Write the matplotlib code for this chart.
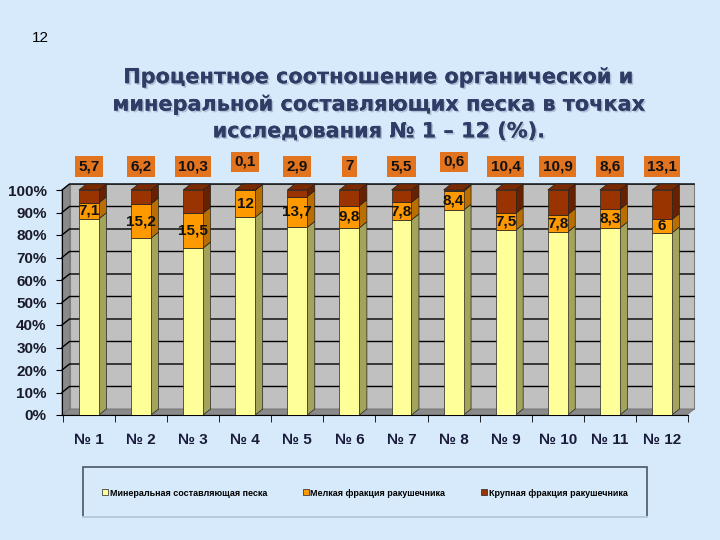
import matplotlib
matplotlib.use('Agg')
from matplotlib import pyplot as plt
from matplotlib import patches
from matplotlib import patheffects as pe

points = ['№ 1', '№ 2', '№ 3', '№ 4', '№ 5', '№ 6',
          '№ 7', '№ 8', '№ 9', '№ 10', '№ 11', '№ 12']
coarse = [5.7, 6.2, 10.3, 0.1, 2.9, 7, 5.5, 0.6, 10.4, 10.9, 8.6, 13.1]
fine = [7.1, 15.2, 15.5, 12, 13.7, 9.8, 7.8, 8.4, 7.5, 7.8, 8.3, 6]
mineral = [100 - c - f for c, f in zip(coarse, fine)]
y_ticks = [0, 10, 20, 30, 40, 50, 60, 70, 80, 90, 100]
legend_labels = ['Минеральная составляющая песка',
                 'Мелкая фракция ракушечника',
                 'Крупная фракция ракушечника']

plt.rcParams['font.family'] = ['Liberation Sans', 'DejaVu Sans']

bg = '#d6eafb'
front = ['#ffff99', '#ff9900', '#993300']
side = ['#a3a35c', '#b86e00', '#662200']
top_face = '#7a2a00'

fig = plt.figure(figsize=(7.2, 5.4), dpi=100, facecolor=bg)
ax = fig.add_axes([62 / 720, 125 / 540, 626 / 720, 225 / 540])
ax.set_facecolor('none')

x0, x1 = -0.517, 11.475
dx, dy = 0.144, 2.67
w = 0.383
ax.set_xlim(x0, x1)
ax.set_ylim(0, 100)

# walls of the 3d box
ax.add_patch(patches.Polygon([(x0 + dx, dy), (x1 + dx, dy), (x1 + dx, 100 + dy), (x0 + dx, 100 + dy)],
                             closed=True, facecolor='#c0c0c0', edgecolor='#808080', lw=0.8,
                             zorder=0, clip_on=False))
ax.add_patch(patches.Polygon([(x0, 0), (x0, 100), (x0 + dx, 100 + dy), (x0 + dx, dy)],
                             closed=True, facecolor='#8a8a8a', edgecolor='#707070', lw=0.6,
                             zorder=0, clip_on=False))
ax.add_patch(patches.Polygon([(x0, 0), (x1, 0), (x1 + dx, dy), (x0 + dx, dy)],
                             closed=True, facecolor='#8a8a8a', edgecolor='#707070', lw=0.6,
                             zorder=0, clip_on=False))
for t in y_ticks[1:]:
    ax.plot([x0, x0 + dx, x1 + dx], [t, t + dy, t + dy], color='black', lw=1.0,
            zorder=1, clip_on=False)

xs = list(range(len(points)))
bottoms = [[0] * len(xs), mineral, [m + f for m, f in zip(mineral, fine)]]
series = [mineral, fine, coarse]
for k, vals in enumerate(series):
    for i, (b, v) in enumerate(zip(bottoms[k], vals)):
        r = i + w / 2
        ax.add_patch(patches.Polygon([(r, b), (r + dx, b + dy), (r + dx, b + v + dy), (r, b + v)],
                                     closed=True, facecolor=side[k], edgecolor='#222222',
                                     lw=0.5, zorder=2, clip_on=False))
    ax.bar(xs, vals, width=w, bottom=bottoms[k], color=front[k], edgecolor='#222222',
           lw=0.5, zorder=3, label=legend_labels[k])
for i in xs:
    l, r = i - w / 2, i + w / 2
    ax.add_patch(patches.Polygon([(l, 100), (r, 100), (r + dx, 100 + dy), (l + dx, 100 + dy)],
                                 closed=True, facecolor=top_face, edgecolor='#222222',
                                 lw=0.5, zorder=3, clip_on=False))

# value labels
for i in xs:
    ax.text(i, mineral[i] + fine[i] / 2, str(fine[i]).replace('.', ','), ha='center',
            va='center', fontsize=11, fontweight='bold', color='#111111', zorder=5)
    ax.text(i, 110.5 + (2 if coarse[i] < 1 else 0), str(coarse[i]).replace('.', ','),
            ha='center', va='center', fontsize=11, fontweight='bold', color='#111111',
            zorder=5, clip_on=False,
            bbox=dict(boxstyle='square,pad=0.22', facecolor='#e2731f', edgecolor='none'))

for s in ['top', 'right']:
    ax.spines[s].set_visible(False)
ax.spines['left'].set_color('black')
ax.spines['bottom'].set_color('black')
ax.set_yticks(y_ticks)
ax.set_yticklabels([f'{t}%' for t in y_ticks], fontsize=11, fontweight='bold', color='#1a1a2a')
ax.tick_params(axis='y', length=4, pad=7, direction='out')
ax.set_xticks(xs)
ax.set_xticklabels(points, fontsize=11, fontweight='bold', color='#1a1a3a')
ax.set_xticks([i - 0.5 for i in range(len(points) + 1)], minor=True)
ax.tick_params(axis='x', which='major', length=0, pad=13)
ax.tick_params(axis='x', which='minor', length=5)

# title and slide number
fig.text(40 / 720, 1 - 38 / 540, '12', fontsize=11, ha='center', va='center', color='black')
fig.text(379 / 720, 1 - 104 / 540,
         'Процентное соотношение органической и\nминеральной составляющих песка в точках\nисследования № 1 – 12 (%).',
         ha='center', va='center', fontsize=15, fontweight='bold', color='#2f3c66',
         family=['DejaVu Sans'], linespacing=1.42,
         path_effects=[pe.withSimplePatchShadow(offset=(1.2, -1.2), shadow_rgbFace='#8a96b0', alpha=0.5),
                       pe.Normal()])

# legend box
fig.add_artist(patches.Rectangle((83 / 720, 1 - 517 / 540), 564 / 720, 50 / 540,
                                 transform=fig.transFigure, facecolor=bg, edgecolor='#4a5666',
                                 lw=1.2))
fig.add_artist(plt.Line2D([83 / 720, 647 / 720], [1 - 517 / 540, 1 - 517 / 540],
                          transform=fig.transFigure, color='#b8cde0', lw=1.4))
handles, labels = ax.get_legend_handles_labels()
fig.legend(handles, labels, loc='center', bbox_to_anchor=(365 / 720, 1 - 493 / 540),
           ncol=3, frameon=False, handlelength=0.6, handleheight=0.6,
           handletextpad=0.2, columnspacing=4.0, prop={'weight': 'bold', 'size': 6.5})

fig.savefig('out.png', dpi=100, facecolor=bg)
